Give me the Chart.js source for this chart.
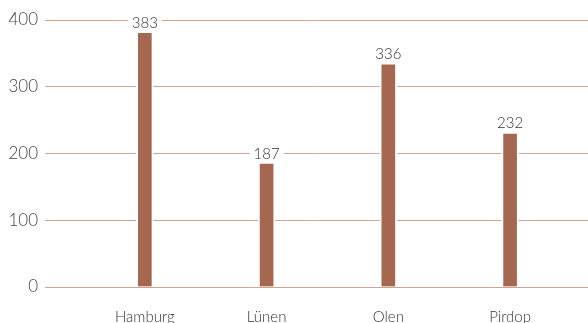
<!DOCTYPE html>
<html><head><meta charset="utf-8">
<script src="https://cdn.jsdelivr.net/npm/chart.js@4/dist/chart.umd.min.js"></script>
<style>html,body{margin:0;padding:0;background:#fff;}#wrap{width:588px;height:323px;}</style>
</head><body><div id="wrap"><canvas id="c" width="588" height="323"></canvas></div>
<script>
const categories = ["Hamburg", "Lünen", "Olen", "Pirdop"];
const values = [383, 187, 336, 232];
const yTicks = [0, 100, 200, 300, 400];

const FONT = "Lato, 'Open Sans', sans-serif";

const labelPlugin = {
  id: 'valLabels',
  afterDatasetsDraw(chart) {
    const ctx = chart.ctx;
    const meta = chart.getDatasetMeta(0);
    ctx.save();
    ctx.font = "300 15px " + FONT;
    ctx.textAlign = 'center';
    ctx.textBaseline = 'bottom';
    meta.data.forEach((bar, i) => {
      const txt = String(values[i]);
      const w = ctx.measureText(txt).width;
      const yb = bar.y - 1;
      ctx.fillStyle = '#fff';
      ctx.fillRect(bar.x - w / 2 - 4, yb - 16, w + 8, 16);
      ctx.fillStyle = '#333';
      ctx.fillText(txt, bar.x, yb);
    });
    ctx.restore();
  }
};

new Chart(document.getElementById('c'), {
  type: 'bar',
  data: {
    datasets: [{
      data: values.map((v, i) => ({ x: i, y: v })),
      backgroundColor: '#a5674f',
      borderColor: '#ffffff',
      borderWidth: { left: 2, right: 2, top: 2, bottom: 0 },
      borderSkipped: 'bottom',
      barThickness: 17
    }]
  },
  options: {
    responsive: false,
    animation: false,
    layout: { padding: { top: 20, left: 0, right: 0, bottom: 0 } },
    plugins: { legend: { display: false }, tooltip: { enabled: false } },
    scales: {
      x: {
        type: 'linear',
        offset: false,
        min: -0.82,
        max: 3.64,
        grid: { display: false, drawTicks: false, offset: false },
        border: { display: false },
        afterBuildTicks(s) { s.ticks = categories.map((c, i) => ({ value: i })); },
        afterFit(s) { s.height = 36; },
        ticks: {
          padding: 21,
          color: '#333',
          font: { family: FONT, size: 15, weight: 300 },
          callback: (v) => categories[v]
        }
      },
      y: {
        min: 0,
        max: 400,
        afterBuildTicks(s) { s.ticks = yTicks.map(v => ({ value: v })); },
        afterFit(s) { s.width = 45; },
        grid: { color: '#cfa593', lineWidth: 1, drawTicks: false },
        border: { display: false },
        ticks: {
          padding: 7,
          color: '#444',
          font: { family: FONT, size: 17, weight: 300 }
        }
      }
    }
  },
  plugins: [labelPlugin]
});
</script></body></html>
